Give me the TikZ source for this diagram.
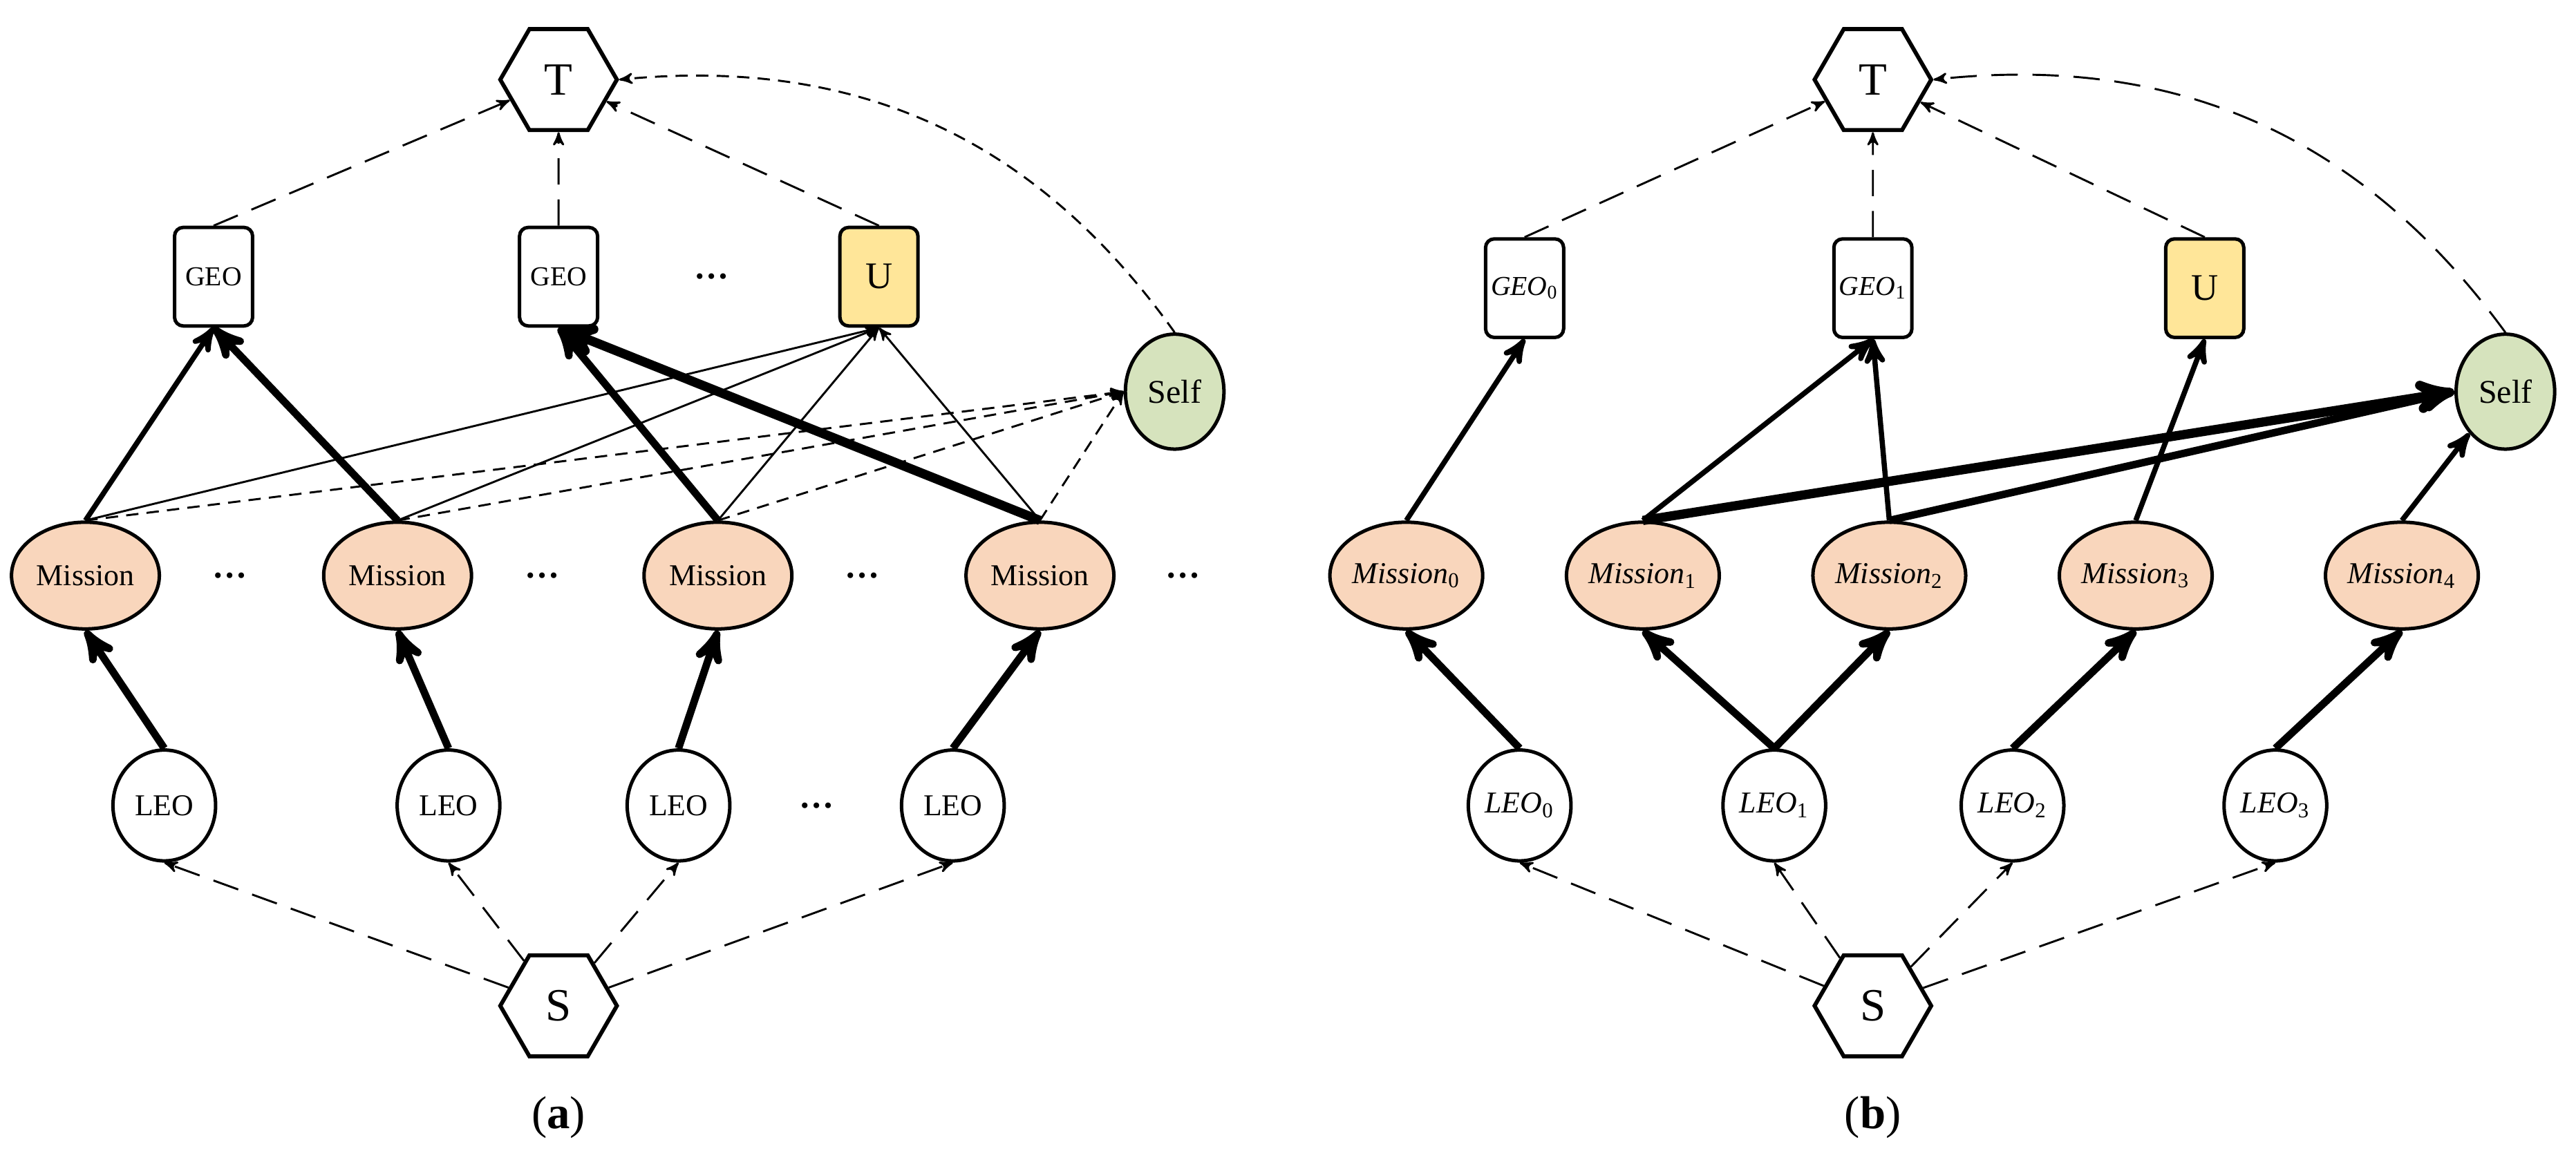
\documentclass[tikz,border=0pt]{standalone}
\usepackage{fontspec}
\setmainfont{Liberation Serif}
\usepackage{tikz}
\usetikzlibrary{arrows, shapes.geometric}

\definecolor{missionfill}{HTML}{F9D6BC}
\definecolor{ufill}{HTML}{FFE699}
\definecolor{selffill}{HTML}{D6E3BD}

\newcommand{\isub}[2]{\textit{#1}\textsubscript{#2}}

\begin{document}
\begin{tikzpicture}[->, >=stealth', line width=0.7pt]
	\tikzstyle{hexa}=[regular polygon, regular polygon sides=6, draw, line width=1.4pt, minimum size=1.42cm, inner sep=0pt, font=\fontsize{16}{17}\selectfont]
	\tikzstyle{box}=[rectangle, rounded corners=3pt, draw, line width=1.2pt, minimum width=0.95cm, minimum height=1.2cm, inner sep=1pt, font=\fontsize{9.5}{10}\selectfont]
	\tikzstyle{mission}=[ellipse, draw, line width=1.2pt, fill=missionfill, minimum width=1.8cm, minimum height=1.3cm, inner sep=0pt, font=\fontsize{10.5}{11}\selectfont]
	\tikzstyle{leo}=[ellipse, draw, line width=1.2pt, fill=white, minimum width=1.25cm, minimum height=1.35cm, inner sep=0pt, font=\fontsize{10.5}{11}\selectfont]
	\tikzstyle{self}=[ellipse, draw, line width=1.2pt, fill=selffill, minimum width=1.2cm, minimum height=1.4cm, inner sep=0pt, font=\fontsize{11.5}{12}\selectfont]
	\tikzstyle{dots}=[font=\fontsize{12}{13}\selectfont]
	\tikzstyle{longdash}=[dash pattern=on 0.32cm off 0.18cm]
	\tikzstyle{shortdash}=[dash pattern=on 0.15cm off 0.1cm]
	\tikzstyle{w1}=[line width=1.8pt]
	\tikzstyle{w2}=[line width=2.6pt]
	\tikzstyle{w3}=[line width=3.2pt]

	\useasboundingbox (0,0) rectangle (31.36,14.01);

	% panel (a)
	\node[hexa] at (6.8, 13.04) (Ta) {T};
	\node[box] at (2.6, 10.64) (Ga1) {GEO};
	\node[box] at (6.8, 10.64) (Ga2) {GEO};
	\node[dots] at (8.66, 10.64) (da0) {\textbf{\dots}};
	\node[box, fill=ufill, font=\fontsize{13}{14}\selectfont] at (10.7, 10.64) (Ua) {U};
	\node[self] at (14.3, 9.24) (Sa) {Self};
	\node[mission] at (1.04, 7.0) (Ma1) {Mission};
	\node[mission] at (4.84, 7.0) (Ma2) {Mission};
	\node[mission] at (8.74, 7.0) (Ma3) {Mission};
	\node[mission] at (12.66, 7.0) (Ma4) {Mission};
	\node[dots] at (2.8, 7.0) (da1) {\textbf{\dots}};
	\node[dots] at (6.6, 7.0) (da2) {\textbf{\dots}};
	\node[dots] at (10.5, 7.0) (da3) {\textbf{\dots}};
	\node[dots] at (14.4, 7.0) (da4) {\textbf{\dots}};
	\node[leo] at (2.0, 4.2) (La1) {LEO};
	\node[leo] at (5.46, 4.2) (La2) {LEO};
	\node[leo] at (8.26, 4.2) (La3) {LEO};
	\node[leo] at (11.6, 4.2) (La4) {LEO};
	\node[dots] at (9.94, 4.2) (da5) {\textbf{\dots}};
	\node[hexa] at (6.8, 1.76) (Sra) {S};
	\node[font=\fontsize{16}{17}\selectfont] at (6.8, 0.4) (capa) {(\textbf{a})};

	\path
	(Ga1.north) edge[longdash] (Ta)
	(Ga2) edge[longdash] (Ta)
	(Ua.north) edge[longdash] (Ta)
	(Sa.north) edge[shortdash, bend right=30] (Ta.east)
	(Ma1.north) edge[w1] (Ga1.south)
	(Ma2.north) edge[w2] (Ga1.south)
	(Ma3.north) edge[w2] (Ga2.south)
	(Ma4.north) edge[w3] (Ga2.south)
	(Ma1.north) edge (Ua.south)
	(Ma2.north) edge (Ua.south)
	(Ma3.north) edge (Ua.south)
	(Ma4.north) edge (Ua.south)
	(Ma1.north) edge[shortdash] (Sa.west)
	(Ma2.north) edge[shortdash] (Sa.west)
	(Ma3.north) edge[shortdash] (Sa.west)
	(Ma4.north) edge[shortdash] (Sa.west)
	(La1.north) edge[w2] (Ma1.south)
	(La2.north) edge[w2] (Ma2.south)
	(La3.north) edge[w2] (Ma3.south)
	(La4.north) edge[w2] (Ma4.south)
	(Sra) edge[longdash] (La1.south)
	(Sra) edge[longdash] (La2.south)
	(Sra) edge[longdash] (La3.south)
	(Sra) edge[longdash] (La4.south);

	% panel (b)
	\node[hexa] at (22.8, 13.04) (Tb) {T};
	\node[box] at (18.56, 10.5) (Gb0) {\isub{GEO}{0}};
	\node[box] at (22.8, 10.5) (Gb1) {\isub{GEO}{1}};
	\node[box, fill=ufill, font=\fontsize{13}{14}\selectfont] at (26.84, 10.5) (Ub) {U};
	\node[self] at (30.5, 9.24) (Sb) {Self};
	\node[mission] at (17.12, 7.0) (Mb0) {\isub{Mission}{0}};
	\node[mission] at (20.0, 7.0) (Mb1) {\isub{Mission}{1}};
	\node[mission] at (23.0, 7.0) (Mb2) {\isub{Mission}{2}};
	\node[mission] at (26.0, 7.0) (Mb3) {\isub{Mission}{3}};
	\node[mission] at (29.24, 7.0) (Mb4) {\isub{Mission}{4}};
	\node[leo] at (18.5, 4.2) (Lb0) {\isub{LEO}{0}};
	\node[leo] at (21.6, 4.2) (Lb1) {\isub{LEO}{1}};
	\node[leo] at (24.5, 4.2) (Lb2) {\isub{LEO}{2}};
	\node[leo] at (27.7, 4.2) (Lb3) {\isub{LEO}{3}};
	\node[hexa] at (22.8, 1.76) (Srb) {S};
	\node[font=\fontsize{16}{17}\selectfont] at (22.8, 0.4) (capb) {(\textbf{b})};

	\path
	(Gb0.north) edge[longdash] (Tb)
	(Gb1) edge[longdash] (Tb)
	(Ub.north) edge[longdash] (Tb)
	(Sb.north) edge[longdash, bend right=30] (Tb.east)
	(Mb0.north) edge[w1] (Gb0.south)
	(Mb1.north) edge[w1] (Gb1.south)
	(Mb2.north) edge[w1] (Gb1.south)
	(Mb1.north) edge[w3] (Sb.west)
	(Mb2.north) edge[w2] (Sb.west)
	(Mb3.north) edge[w1] (Ub.south)
	(Mb4.north) edge[w1] (Sb.south west)
	(Lb0.north) edge[w2] (Mb0.south)
	(Lb1.north) edge[w2] (Mb1.south)
	(Lb1.north) edge[w2] (Mb2.south)
	(Lb2.north) edge[w2] (Mb3.south)
	(Lb3.north) edge[w2] (Mb4.south)
	(Srb) edge[longdash] (Lb0.south)
	(Srb) edge[longdash] (Lb1.south)
	(Srb) edge[longdash] (Lb2.south)
	(Srb) edge[longdash] (Lb3.south);
\end{tikzpicture}
\end{document}
